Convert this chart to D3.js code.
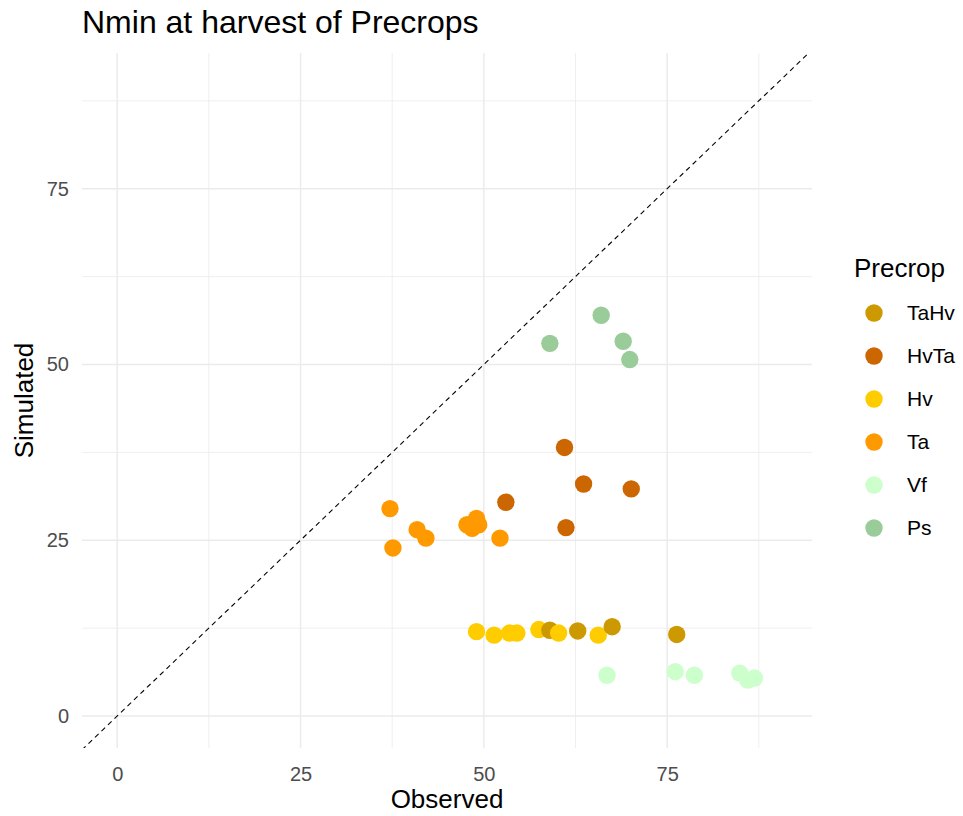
<!DOCTYPE html>
<html>
<head>
<meta charset="utf-8">
<script src="https://cdn.jsdelivr.net/npm/d3@7"></script>
<style>
  html, body { margin: 0; padding: 0; background: #ffffff; }
  svg { display: block; font-family: "Liberation Sans", Arial, sans-serif; }
</style>
</head>
<body>
<svg id="chart" width="963" height="816"></svg>
<script>
// Precrop groups, drawing colours and legend order
const precrops = ["TaHv", "HvTa", "Hv", "Ta", "Vf", "Ps"];
const colors   = ["#CC9900", "#CC6600", "#FFCC00", "#FF9900", "#CCFFCC", "#99CC99"];

// Observed / simulated Nmin at harvest, per precrop
const obsTaHv = [59.0, 62.8, 67.5, 76.3];
const simTaHv = [12.2, 12.1, 12.7, 11.6];

const obsHvTa = [53.0, 61.0, 61.2, 63.6, 70.1];
const simHvTa = [30.4, 38.2, 26.8, 33.0, 32.3];

const obsHv = [49.0, 51.4, 53.5, 54.5, 57.5, 60.2, 65.6];
const simHv = [12.0, 11.5, 11.8, 11.8, 12.3, 11.8, 11.5];

const obsTa = [37.2, 37.6, 40.9, 42.1, 47.7, 48.4, 49.0, 49.3, 52.2];
const simTa = [29.5, 23.9, 26.5, 25.3, 27.2, 26.7, 28.1, 27.2, 25.3];

const obsVf = [66.8, 76.1, 78.7, 84.9, 86.0, 86.9];
const simVf = [5.8, 6.3, 5.8, 6.1, 5.1, 5.4];

const obsPs = [59.0, 66.0, 69.0, 69.9];
const simPs = [53.0, 57.0, 53.3, 50.7];

// Axis ticks
const xTicks = [0, 25, 50, 75];
const yTicks = [0, 25, 50, 75];
const xMinor = [12.5, 37.5, 62.5, 87.5];
const yMinor = [12.5, 37.5, 62.5, 87.5];

const series = {
  TaHv: [obsTaHv, simTaHv],
  HvTa: [obsHvTa, simHvTa],
  Hv:   [obsHv, simHv],
  Ta:   [obsTa, simTa],
  Vf:   [obsVf, simVf],
  Ps:   [obsPs, simPs]
};

const points = [];
precrops.forEach(p => {
  const [ob, si] = series[p];
  ob.forEach((v, i) => points.push({ precrop: p, obs: v, sim: si[i] }));
});
points.sort((a, b) => a.obs - b.obs);

const color = d3.scaleOrdinal().domain(precrops).range(colors);

const svg = d3.select("#chart");
const panel = { left: 82, right: 812, top: 53, bottom: 748 };

const x = d3.scaleLinear().domain([-4.8, 94.75]).range([panel.left, panel.right]);
const y = d3.scaleLinear().domain([-4.55, 94.3]).range([panel.bottom, panel.top]);

// Grid: minor lines first, then major
const grid = svg.append("g");
grid.selectAll(".vminor").data(xMinor).join("line")
  .attr("x1", d => x(d)).attr("x2", d => x(d))
  .attr("y1", panel.top).attr("y2", panel.bottom)
  .attr("stroke", "#EBEBEB").attr("stroke-width", 0.8);
grid.selectAll(".hminor").data(yMinor).join("line")
  .attr("y1", d => y(d)).attr("y2", d => y(d))
  .attr("x1", panel.left).attr("x2", panel.right)
  .attr("stroke", "#EBEBEB").attr("stroke-width", 0.8);
grid.selectAll(".vmajor").data(xTicks).join("line")
  .attr("x1", d => x(d)).attr("x2", d => x(d))
  .attr("y1", panel.top).attr("y2", panel.bottom)
  .attr("stroke", "#EBEBEB").attr("stroke-width", 1.5);
grid.selectAll(".hmajor").data(yTicks).join("line")
  .attr("y1", d => y(d)).attr("y2", d => y(d))
  .attr("x1", panel.left).attr("x2", panel.right)
  .attr("stroke", "#EBEBEB").attr("stroke-width", 1.5);

// 1:1 reference line, clipped to the panel
svg.append("clipPath").attr("id", "panel-clip")
  .append("rect")
  .attr("x", panel.left).attr("y", panel.top)
  .attr("width", panel.right - panel.left).attr("height", panel.bottom - panel.top);

const [d0, d1] = x.domain();
svg.append("line")
  .attr("clip-path", "url(#panel-clip)")
  .attr("x1", x(d0)).attr("y1", y(d0))
  .attr("x2", x(d1)).attr("y2", y(d1))
  .attr("stroke", "#000").attr("stroke-width", 1.1)
  .attr("stroke-dasharray", "5,4");

// Points
svg.append("g").selectAll("circle").data(points).join("circle")
  .attr("cx", d => x(d.obs))
  .attr("cy", d => y(d.sim))
  .attr("r", 8.7)
  .attr("fill", d => color(d.precrop));

// Axes (labels only)
const xAxis = svg.append("g")
  .attr("transform", `translate(0,${panel.bottom})`)
  .call(d3.axisBottom(x).tickValues(xTicks).tickSize(0).tickPadding(19).tickFormat(d3.format("d")));
const yAxis = svg.append("g")
  .attr("transform", `translate(${panel.left},0)`)
  .call(d3.axisLeft(y).tickValues(yTicks).tickSize(0).tickPadding(13).tickFormat(d3.format("d")));
[xAxis, yAxis].forEach(a => {
  a.select(".domain").remove();
  a.selectAll("text").attr("fill", "#4D4D4D").style("font-size", "20px")
    .style("font-family", "'Liberation Sans', Arial, sans-serif");
});

// Titles
svg.append("text")
  .attr("x", panel.left).attr("y", 33)
  .style("font-size", "32px").attr("fill", "#000")
  .text("Nmin at harvest of Precrops");

svg.append("text")
  .attr("x", (panel.left + panel.right) / 2).attr("y", 808)
  .attr("text-anchor", "middle")
  .style("font-size", "26px").attr("fill", "#000")
  .text("Observed");

svg.append("text")
  .attr("transform", `translate(33,${(panel.top + panel.bottom) / 2}) rotate(-90)`)
  .attr("text-anchor", "middle")
  .style("font-size", "26px").attr("fill", "#000")
  .text("Simulated");

// Legend
const legend = svg.append("g");
legend.append("text")
  .attr("x", 854).attr("y", 277)
  .style("font-size", "26px").attr("fill", "#000")
  .text("Precrop");

const items = legend.selectAll(".item").data(precrops).join("g")
  .attr("transform", (d, i) => `translate(0,${313 + i * 43})`);
items.append("circle").attr("cx", 874).attr("cy", 0).attr("r", 8.7)
  .attr("fill", d => color(d));
items.append("text").attr("x", 907).attr("y", 0).attr("dy", "0.35em")
  .style("font-size", "21px").attr("fill", "#000")
  .text(d => d);
</script>
</body>
</html>
